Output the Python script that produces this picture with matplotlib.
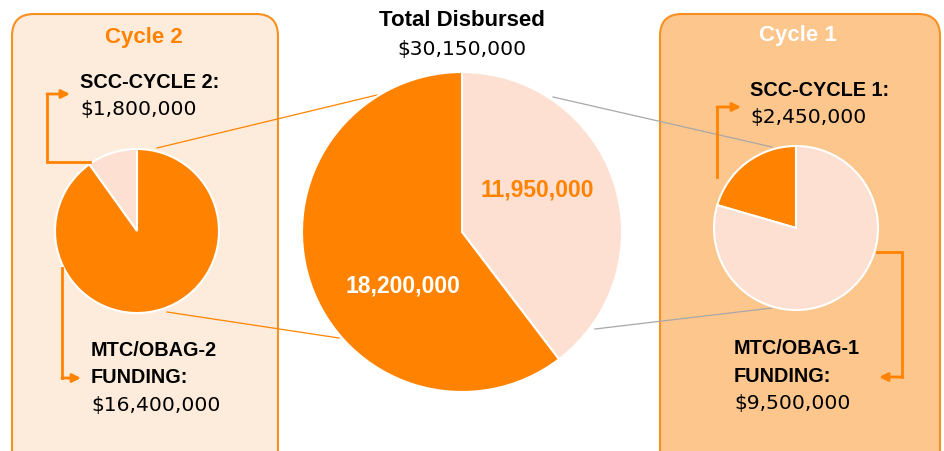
import matplotlib
matplotlib.use('Agg')
import matplotlib.pyplot as plt
from matplotlib.patches import FancyBboxPatch

# data
total_labels = ['11,950,000', '18,200,000']
total_values = [11950000, 18200000]
cycle2_names = ['SCC-CYCLE 2:', 'MTC/OBAG-2\nFUNDING:']
cycle2_values = [1800000, 16400000]
cycle2_amounts = ['$1,800,000', '$16,400,000']
cycle1_names = ['SCC-CYCLE 1:', 'MTC/OBAG-1\nFUNDING:']
cycle1_values = [2450000, 9500000]
cycle1_amounts = ['$2,450,000', '$9,500,000']

ORANGE = '#ff8300'
LIGHT = '#fde0d1'
BOX2 = '#fdecdb'
BOX1 = '#fdc68d'
EDGE = '#f7901e'

W, H = 944, 451
BOLD = ['Liberation Sans', 'DejaVu Sans']
REG = ['DejaVu Sans']


def Y(y):
    # pixel row (from top) -> data y
    return H - y


fig = plt.figure(figsize=(W / 100, H / 100), dpi=100)
ax = fig.add_axes([0, 0, 1, 1])

# background boxes
for x0, x1, fc in [(12, 278, BOX2), (660, 940, BOX1)]:
    ax.add_patch(FancyBboxPatch((x0, Y(480)), x1 - x0, 480 - 14,
                                boxstyle='round,pad=0,rounding_size=22',
                                fc=fc, ec=EDGE, lw=1.5, zorder=0))

# connector lines
ax.plot([157, 377], [Y(148), Y(95)], color=ORANGE, lw=0.9, zorder=1)
ax.plot([167, 339], [Y(312), Y(338)], color=ORANGE, lw=0.9, zorder=1)
ax.plot([553, 772], [Y(97), Y(147)], color='#a8a8a8', lw=0.9, zorder=1)
ax.plot([595, 772], [Y(329), Y(308)], color='#a8a8a8', lw=0.9, zorder=1)

wp = dict(edgecolor='white', linewidth=1.5)

# center pie
ax.pie(total_values, colors=[LIGHT, ORANGE], startangle=90, counterclock=False,
       center=(462, Y(232)), radius=160, wedgeprops=wp, frame=True)
# left pie (cycle 2)
ax.pie(cycle2_values, colors=[LIGHT, ORANGE], startangle=90, counterclock=True,
       center=(137, Y(231)), radius=82, wedgeprops=wp, frame=True)
# right pie (cycle 1)
ax.pie(cycle1_values, colors=[ORANGE, LIGHT], startangle=90, counterclock=True,
       center=(796, Y(228)), radius=82, wedgeprops=wp, frame=True)
ax.set_xlim(0, W)
ax.set_ylim(0, H)
ax.set_aspect('auto')
ax.axis('off')


def elbow(pts):
    xs = [p[0] for p in pts]
    ys = [Y(p[1]) for p in pts]
    ax.plot(xs[:-1], ys[:-1], color=ORANGE, lw=2, solid_joinstyle='miter', zorder=3)
    ax.annotate('', xy=(xs[-1], ys[-1]), xytext=(xs[-2], ys[-2]),
                arrowprops=dict(arrowstyle='-|>,head_length=0.5,head_width=0.25',
                                color=ORANGE, lw=2, shrinkA=0, shrinkB=0), zorder=3)


elbow([(90, 162), (47, 162), (47, 94), (70, 94)])
elbow([(62, 268), (62, 378), (81, 378)])
elbow([(717, 177), (717, 107), (741, 107)])
elbow([(877, 252), (902, 252), (902, 377), (879, 377)])

# titles
ax.text(144, Y(37), 'Cycle 2', ha='center', va='center', color=ORANGE,
        fontsize=16, fontweight='bold', family=BOLD)
ax.text(798, Y(35), 'Cycle 1', ha='center', va='center', color='white',
        fontsize=16, fontweight='bold', family=BOLD)
ax.text(462, Y(20), 'Total Disbursed', ha='center', va='center', color='black',
        fontsize=16, fontweight='bold', family=BOLD)
ax.text(462, Y(49), '$30,150,000', ha='center', va='center', color='black',
        fontsize=14.6, family=REG)

# center pie labels
ax.text(537, Y(190), total_labels[0], ha='center', va='center', color=ORANGE,
        fontsize=16.5, fontweight='bold', family=BOLD)
ax.text(403, Y(286), total_labels[1], ha='center', va='center', color='white',
        fontsize=16.5, fontweight='bold', family=BOLD)


def label(x, y_top, name, amount):
    lines = name.split('\n')
    y = y_top
    for ln in lines:
        ax.text(x, Y(y), ln, ha='left', va='center', color='black',
                fontsize=14.3, fontweight='bold', family=BOLD)
        y += 27.5
    ax.text(x, Y(y), amount, ha='left', va='center', color='black',
            fontsize=14.6, family=REG)


label(80, 82, cycle2_names[0], cycle2_amounts[0])
label(91, 350, cycle2_names[1], cycle2_amounts[1])
label(750, 90, cycle1_names[0], cycle1_amounts[0])
label(734, 349, cycle1_names[1], cycle1_amounts[1])

fig.savefig('out.png', dpi=100)
